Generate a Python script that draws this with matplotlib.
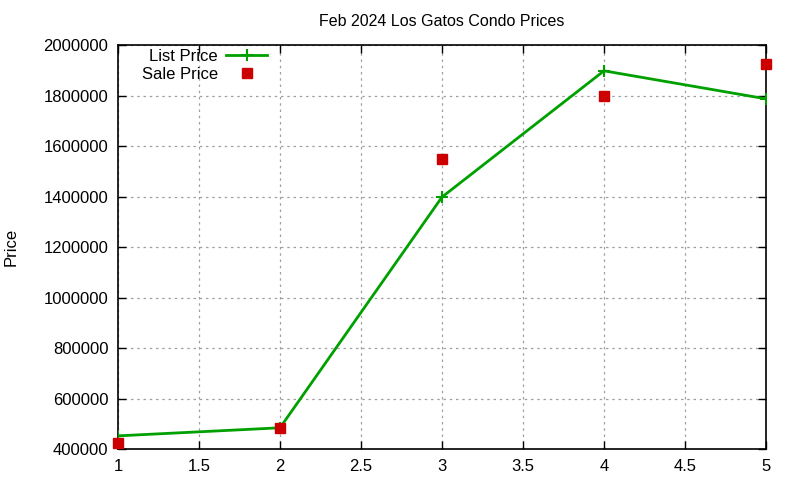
import matplotlib
matplotlib.use("Agg")
import matplotlib.pyplot as plt

plt.rcParams["font.family"] = ["Liberation Sans", "DejaVu Sans"]

x_vals = [1, 2, 3, 4, 5]
list_price = [452000, 484000, 1398000, 1898000, 1787000]
sale_price = [425000, 484000, 1548000, 1800000, 1925000]

x_ticks = [1, 1.5, 2, 2.5, 3, 3.5, 4, 4.5, 5]
y_ticks = list(range(400000, 2000001, 200000))

fig = plt.figure(figsize=(8, 4.8), dpi=100)
ax = fig.add_axes([0.1475, 0.0646, 0.81, 0.8415])

ax.plot(x_vals, list_price, color="#00a000", linewidth=2, marker="+",
        markersize=9, markeredgewidth=1.5, label="List Price", zorder=3)
ax.plot(x_vals, sale_price, linestyle="none", marker="s", color="#cc0000",
        markersize=6.5, label="Sale Price", zorder=4, clip_on=False)

ax.set_xlim(1, 5)
ax.set_ylim(400000, 2000000)
ax.set_xticks(x_ticks)
ax.set_xticklabels([f"{t:g}" for t in x_ticks])
ax.set_yticks(y_ticks)
ax.set_yticklabels([str(t) for t in y_ticks])
ax.tick_params(direction="in", length=6, width=1, top=True, right=True,
               labelsize=12, colors="black")
ax.tick_params(axis="x", pad=7)
ax.tick_params(axis="y", pad=7)
ax.grid(True, linestyle=(0, (2, 3)), color="#a0a0a0", linewidth=0.9)
for s in ax.spines.values():
    s.set_linewidth(1.2)

ax.set_title("Feb 2024 Los Gatos Condo Prices", fontsize=11.5, pad=14)
ax.set_ylabel("Price", fontsize=12)
ax.yaxis.set_label_coords(-0.154, 0.5)

ax.legend(loc="upper left", bbox_to_anchor=(0.037, 0.99), frameon=False,
          markerfirst=False, fontsize=12, handlelength=2.45, handletextpad=0.5,
          labelspacing=0.15, borderaxespad=0, borderpad=0)

fig.savefig("out.png", dpi=100)
